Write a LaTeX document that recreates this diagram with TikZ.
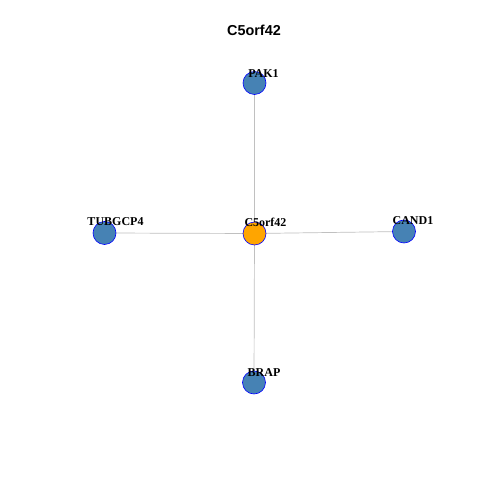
\documentclass[tikz,border=0pt]{standalone}
\usepackage{fontspec}
\usetikzlibrary{calc}
\setmainfont{Liberation Serif}
\newfontfamily\titlefont{Liberation Sans}
\definecolor{steel}{HTML}{4682B4}
\definecolor{orangec}{HTML}{FFA500}
\definecolor{edgec}{HTML}{C0C0C0}
\begin{document}
\begin{tikzpicture}[x=1pt,y=1pt,
  vert/.style={circle,draw=blue,line width=0.6pt,fill=steel,minimum size=23pt,inner sep=0pt},
  centre/.style={vert,fill=orangec},
  lbl/.style={anchor=base,font=\fontsize{12}{12}\selectfont\bfseries,inner sep=0pt},
  edge/.style={draw=edgec,line width=0.7pt}]
\fill[white] (0,0) rectangle (480,480);
\useasboundingbox (0,0) rectangle (480,480);
\node[font=\titlefont\fontsize{14.4}{14.4}\selectfont\bfseries] (title) at (254,450) {C5orf42};
\coordinate (pPAK) at (254.5,397);
\coordinate (pTUB) at (104.5,247);
\coordinate (pC) at (254.5,246.5);
\coordinate (pCAND) at (404,248.5);
\coordinate (pBRAP) at (254,97.5);
\draw[edge] (pC) -- (pPAK);
\draw[edge] (pC) -- (pTUB);
\draw[edge] (pC) -- (pCAND);
\draw[edge] (pC) -- (pBRAP);
\node[vert] (PAK1) at (pPAK) {};
\node[vert] (TUBGCP4) at (pTUB) {};
\node[centre] (C5orf42) at (pC) {};
\node[vert] (CAND1) at (pCAND) {};
\node[vert] (BRAP) at (pBRAP) {};
\node[lbl] (lPAK1) at ($(PAK1)+(9,5.5)$) {PAK1};
\node[lbl] (lTUBGCP4) at ($(TUBGCP4)+(11,7)$) {TUBGCP4};
\node[lbl] (lC5orf42) at ($(C5orf42)+(11,7)$) {C5orf42};
\node[lbl] (lCAND1) at ($(CAND1)+(9,6.5)$) {CAND1};
\node[lbl] (lBRAP) at ($(BRAP)+(10,5.5)$) {BRAP};
\end{tikzpicture}
\end{document}
